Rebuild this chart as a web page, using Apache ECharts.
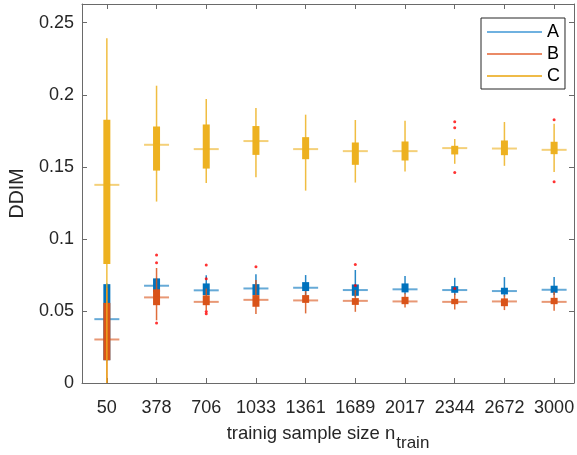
<!DOCTYPE html>
<html>
<head>
<meta charset="utf-8">
<script src="https://cdn.jsdelivr.net/npm/echarts@6/dist/echarts.min.js"></script>
<style>html,body{margin:0;padding:0;background:#fff}#c{width:577px;height:455px}</style>
</head>
<body>
<div id="c"></div>
<script>
// categories (training sample size)
const categories = ['50','378','706','1033','1361','1689','2017','2344','2672','3000'];
// each entry: [lower whisker, Q1, median, Q3, upper whisker]
const boxA = [
  [0.0155,0.0158,0.0443,0.0686,0.0690],
  [0.0600,0.0630,0.0675,0.0726,0.0726],
  [0.0610,0.0610,0.0643,0.0691,0.0747],
  [0.0610,0.0610,0.0656,0.0686,0.0754],
  [0.0610,0.0638,0.0661,0.0700,0.0749],
  [0.0595,0.0605,0.0645,0.0684,0.0784],
  [0.0615,0.0629,0.0650,0.0691,0.0742],
  [0.0610,0.0626,0.0645,0.0672,0.0730],
  [0.0600,0.0615,0.0638,0.0661,0.0735],
  [0.0610,0.0626,0.0647,0.0675,0.0735]
];
const boxB = [
  [0.0000,0.0158,0.0302,0.0556,0.0660],
  [0.0435,0.0540,0.0594,0.0650,0.0798],
  [0.0505,0.0540,0.0563,0.0608,0.0656],
  [0.0478,0.0529,0.0577,0.0610,0.0714],
  [0.0483,0.0556,0.0573,0.0610,0.0638],
  [0.0494,0.0542,0.0570,0.0589,0.0645],
  [0.0524,0.0547,0.0566,0.0598,0.0622],
  [0.0510,0.0547,0.0563,0.0584,0.0622],
  [0.0506,0.0533,0.0566,0.0587,0.0610],
  [0.0501,0.0547,0.0563,0.0591,0.0633]
];
const boxC = [
  [0.0000,0.0825,0.1375,0.1827,0.2393],
  [0.1259,0.1474,0.1653,0.1780,0.2063],
  [0.1387,0.1488,0.1623,0.1794,0.1971],
  [0.1428,0.1583,0.1679,0.1783,0.1908],
  [0.1335,0.1553,0.1623,0.1706,0.1862],
  [0.1391,0.1514,0.1609,0.1669,0.1825],
  [0.1467,0.1544,0.1609,0.1676,0.1820],
  [0.1521,0.1586,0.1630,0.1646,0.1693],
  [0.1507,0.1581,0.1627,0.1683,0.1811],
  [0.1465,0.1588,0.1618,0.1674,0.1799]
];
// outliers: [category index, value]
const outliers = [
  [1,0.0888],[1,0.0835],[1,0.0417],
  [2,0.0818],[2,0.0723],[2,0.0497],[2,0.0480],
  [3,0.0807],
  [5,0.0823],[5,0.0677],
  [7,0.0656],[7,0.1813],[7,0.1771],[7,0.1460],
  [9,0.1827],[9,0.1396]
];
const yTicks = [0,0.05,0.1,0.15,0.2,0.25];

const colors = {A:'#0072BD', B:'#D95319', C:'#EDB120'};
const legendColors = {A:'#6fb1e0', B:'#ea8a66', C:'#efbb48'};
const FONT = "'Liberation Sans', Arial, Helvetica, sans-serif";
const xPos = categories.map((c,i)=>i+1);

function toData(box){ return box.map((b,i)=>[i+1].concat(b)); }

function renderItem(params, api){
  const x = api.value(0);
  const pLo = api.coord([x, api.value(1)]);
  const pQ1 = api.coord([x, api.value(2)]);
  const pMed = api.coord([x, api.value(3)]);
  const pQ3 = api.coord([x, api.value(4)]);
  const pHi = api.coord([x, api.value(5)]);
  const color = api.visual('color');
  return {type:'group', children:[
    {type:'line', shape:{x1:pLo[0],y1:pLo[1],x2:pHi[0],y2:pHi[1]}, style:{stroke:color,lineWidth:1.5,opacity:0.85}},
    {type:'rect', shape:{x:pQ1[0]-3.5,y:pQ3[1],width:7,height:Math.max(1,pQ1[1]-pQ3[1])}, style:{fill:color}},
    {type:'line', shape:{x1:pMed[0]-12.5,y1:pMed[1],x2:pMed[0]+12.5,y2:pMed[1]}, style:{stroke:color,lineWidth:2,opacity:0.6}}
  ]};
}

const axisLineStyle = {color:'#6a6a6a', width:1};
const chart = echarts.init(document.getElementById('c'), null, {renderer:'canvas'});
chart.setOption({
  animation:false,
  grid:{left:82, right:3, top:4, bottom:72, containLabel:false, outerBoundsMode:'none'},
  xAxis:[{
    type:'value', min:0.5, max:10.4, position:'bottom',
    axisLine:{show:true, lineStyle:axisLineStyle},
    axisTick:{show:true, inside:true, length:5, customValues:xPos, lineStyle:axisLineStyle},
    axisLabel:{show:true, customValues:xPos, margin:16, color:'#262626', fontSize:18, fontFamily:FONT,
      formatter:(v)=>categories[Math.round(v)-1]||''},
    splitLine:{show:false},
    name:'trainig sample size n{sub|train}', nameLocation:'middle', nameGap:32,
    nameTextStyle:{color:'#262626', fontSize:18.5, fontFamily:FONT,
      rich:{sub:{fontSize:17, fontFamily:FONT, color:'#262626', padding:[20,0,0,1]}}}
  },{
    type:'value', min:0.5, max:10.4, position:'top',
    axisLine:{show:true, onZero:false, lineStyle:axisLineStyle},
    axisTick:{show:true, inside:true, length:5, customValues:xPos, lineStyle:axisLineStyle},
    axisLabel:{show:false}, splitLine:{show:false}
  }],
  yAxis:[{
    type:'value', min:0, max:0.263, position:'left',
    axisLine:{show:true, lineStyle:axisLineStyle},
    axisTick:{show:true, inside:true, length:5, customValues:yTicks, lineStyle:axisLineStyle},
    axisLabel:{show:true, customValues:yTicks, margin:8, color:'#262626', fontSize:18, fontFamily:FONT,
      formatter:(v)=>String(Math.round(v*100)/100)},
    splitLine:{show:false},
    name:'DDIM', nameLocation:'middle', nameGap:46, nameRotate:90,
    nameTextStyle:{color:'#262626', fontSize:19.5, fontFamily:FONT}
  },{
    type:'value', min:0, max:0.263, position:'right',
    axisLine:{show:true, onZero:false, lineStyle:axisLineStyle},
    axisTick:{show:true, inside:true, length:5, customValues:yTicks, lineStyle:axisLineStyle},
    axisLabel:{show:false}, splitLine:{show:false}
  }],
  legend:{
    left:481, top:18, orient:'vertical',
    padding:[5,5,4,6], itemGap:4, itemWidth:55, itemHeight:2, icon:'rect',
    borderColor:'#262626', borderWidth:1, backgroundColor:'#fff',
    textStyle:{color:'#000', fontSize:18, fontFamily:FONT, lineHeight:18},
    data:[
      {name:'A', itemStyle:{color:legendColors.A}},
      {name:'B', itemStyle:{color:legendColors.B}},
      {name:'C', itemStyle:{color:legendColors.C}}
    ]
  },
  series:[
    {name:'A', type:'custom', renderItem, data:toData(boxA), itemStyle:{color:colors.A}, encode:{x:0,y:[1,2,3,4,5]}, z:2},
    {name:'B', type:'custom', renderItem, data:toData(boxB), itemStyle:{color:colors.B}, encode:{x:0,y:[1,2,3,4,5]}, z:3},
    {name:'C', type:'custom', renderItem, data:toData(boxC), itemStyle:{color:colors.C}, encode:{x:0,y:[1,2,3,4,5]}, z:4},
    {name:'outliers', type:'scatter', data:outliers.map(o=>[o[0]+1,o[1]]), symbol:'circle', symbolSize:3,
      itemStyle:{color:'#ff0000'}, z:5, silent:true}
  ]
});
</script>
</body>
</html>
